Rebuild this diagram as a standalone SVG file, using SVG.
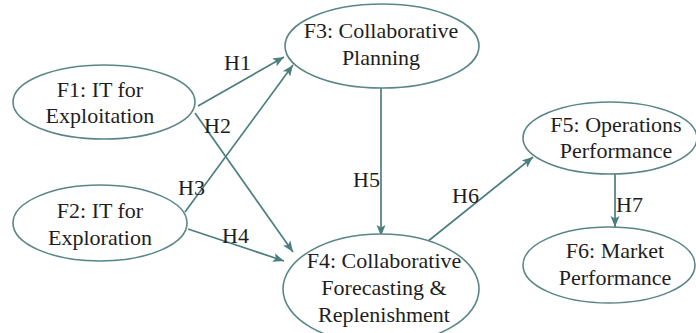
<svg xmlns="http://www.w3.org/2000/svg" width="696" height="333" viewBox="0 0 696 333">
<defs>
<marker id="arr" markerUnits="userSpaceOnUse" markerWidth="12" markerHeight="10" refX="11" refY="5" orient="auto">
<path d="M0,0.5 L11,5 L0,9.5 L2.5,5 z" fill="#4d7e7e"/>
</marker>
<style>
.node ellipse{fill:#fff;stroke:#5b8686;stroke-width:1.6}
.node text{text-anchor:middle}
.edges line{stroke:#4d7e7e;stroke-width:1.7;marker-end:url(#arr)}
.t{font-family:Liberation Serif, DejaVu Serif, Noto Serif, serif;font-size:22px;fill:#1e1e1e}
</style>
</defs>
<rect width="696" height="333" fill="#fff"/>
<g class="edges" id="connectors">
<line x1="198" y1="106" x2="284" y2="57"/>
<line x1="195" y1="113" x2="293" y2="252"/>
<line x1="185" y1="212" x2="293" y2="65"/>
<line x1="188" y1="229" x2="284" y2="261"/>
<line x1="381" y1="88" x2="381" y2="236"/>
<line x1="427" y1="242" x2="533" y2="157"/>
<line x1="615" y1="174" x2="615" y2="227"/>
</g>
<g class="t" style="font-family:'Liberation Serif', serif">
<g id="labels">
<text x="224" y="70">H1</text>
<text x="204" y="133">H2</text>
<text x="178" y="195">H3</text>
<text x="222" y="243">H4</text>
<text x="353" y="187">H5</text>
<text x="452" y="203">H6</text>
<text x="616" y="212">H7</text>
</g>
<g class="node" id="F1">
<ellipse cx="104" cy="102" rx="91" ry="37"/>
<text x="100" y="97">F1: IT for</text>
<text x="100" y="123">Exploitation</text>
</g>
<g class="node" id="F2">
<ellipse cx="100" cy="223" rx="87" ry="38"/>
<text x="100" y="218">F2: IT for</text>
<text x="100" y="245">Exploration</text>
</g>
<g class="node" id="F3">
<ellipse cx="382" cy="46" rx="97" ry="42"/>
<text x="381" y="38">F3: Collaborative</text>
<text x="381" y="65">Planning</text>
</g>
<g class="node" id="F4">
<ellipse cx="381" cy="289" rx="98" ry="55"/>
<text x="384" y="268">F4: Collaborative</text>
<text x="384" y="295">Forecasting &amp;</text>
<text x="384" y="322">Replenishment</text>
</g>
<g class="node" id="F5">
<ellipse cx="610" cy="138" rx="87" ry="36"/>
<text x="616" y="132">F5: Operations</text>
<text x="616" y="158">Performance</text>
</g>
<g class="node" id="F6">
<ellipse cx="609" cy="265" rx="86" ry="38"/>
<text x="615" y="258">F6: Market</text>
<text x="615" y="285">Performance</text>
</g>
</g>
</svg>
